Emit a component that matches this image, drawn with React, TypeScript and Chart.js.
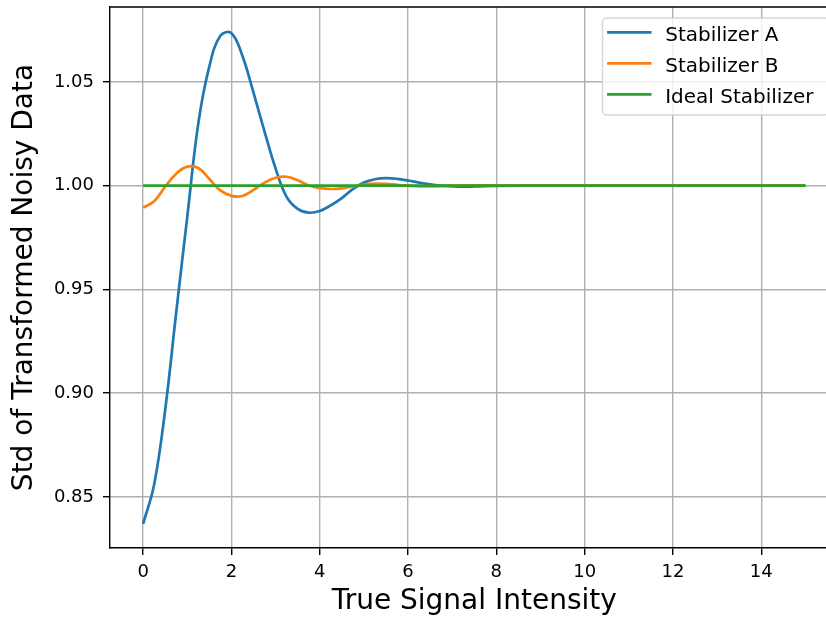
import React, { useEffect, useRef } from "react";
import { Chart, registerables } from "chart.js";

Chart.register(...registerables);

// ---- data ----
const X = [
  0, 0.25, 0.5, 0.75, 1, 1.25, 1.5, 1.75, 2, 2.25, 2.5, 2.75, 3, 3.25, 3.5, 3.75,
  4, 4.25, 4.5, 4.75, 5, 5.25, 5.5, 5.75, 6, 6.25, 6.5, 6.75, 7, 7.25, 7.5, 7.75,
  8, 9, 10, 11, 12, 13, 14, 15,
];
const STAB_A = [
  0.837, 0.856, 0.892, 0.939, 0.985, 1.03, 1.0575, 1.0722, 1.0735, 1.0625, 1.0448,
  1.0261, 1.0083, 0.9946, 0.9888, 0.987, 0.9878, 0.9905, 0.994, 0.9983, 1.0015,
  1.0031, 1.0036, 1.0033, 1.0025, 1.0015, 1.0006, 1.0, 0.9997, 0.9995, 0.9996,
  0.9998, 0.9999, 1.0, 1.0, 1.0, 1.0, 1.0, 1.0, 1.0,
];
const STAB_B = [
  0.9894, 0.9925, 0.9995, 1.0058, 1.0092, 1.0085, 1.0032, 0.9977, 0.9951, 0.995,
  0.998, 1.0015, 1.0038, 1.0043, 1.0026, 1.0001, 0.9988, 0.9984, 0.9987, 0.9996,
  1.0005, 1.001, 1.0009, 1.0004, 1.0, 0.9997, 0.9997, 0.9998, 1.0, 1.0001, 1.0002,
  1.0001, 1.0, 1.0, 1.0, 1.0, 1.0, 1.0, 1.0, 1.0,
];
const IDEAL_X = [0, 15];
const IDEAL = [1, 1];

const X_TICKS = [0, 2, 4, 6, 8, 10, 12, 14];
const Y_TICKS = [0.85, 0.9, 0.95, 1.0, 1.05];
const SERIES_LABELS = ["Stabilizer A", "Stabilizer B", "Ideal Stabilizer"];
const SERIES_COLORS = ["#1f77b4", "#ff7f0e", "#2ca02c"];
const X_TITLE = "True Signal Intensity";
const Y_TITLE = "Std of Transformed Noisy Data";

const FONT = "DejaVu Sans";

const framePlugin = {
  id: "frameAndLegend",
  afterDraw(chart: any) {
    const { ctx, chartArea } = chart;
    const { left, top, right, bottom } = chartArea;
    ctx.save();
    // top / right spines
    ctx.strokeStyle = "black";
    ctx.lineWidth = 1.4;
    ctx.beginPath();
    ctx.moveTo(left, top);
    ctx.lineTo(right, top);
    ctx.lineTo(right, bottom);
    ctx.stroke();

    // legend box
    const bx = right - 236;
    const by = top + 11;
    const bw = 226;
    const bh = 97;
    const r = 4;
    ctx.beginPath();
    ctx.moveTo(bx + r, by);
    ctx.lineTo(bx + bw - r, by);
    ctx.arcTo(bx + bw, by, bx + bw, by + r, r);
    ctx.lineTo(bx + bw, by + bh - r);
    ctx.arcTo(bx + bw, by + bh, bx + bw - r, by + bh, r);
    ctx.lineTo(bx + r, by + bh);
    ctx.arcTo(bx, by + bh, bx, by + bh - r, r);
    ctx.lineTo(bx, by + r);
    ctx.arcTo(bx, by, bx + r, by, r);
    ctx.closePath();
    ctx.fillStyle = "rgba(255,255,255,0.8)";
    ctx.fill();
    ctx.strokeStyle = "rgba(204,204,204,0.8)";
    ctx.lineWidth = 1.4;
    ctx.stroke();

    ctx.font = `20px "${FONT}"`;
    ctx.textBaseline = "alphabetic";
    ctx.textAlign = "left";
    SERIES_LABELS.forEach((label, i) => {
      const ly = by + 14.3 + i * 31;
      ctx.strokeStyle = SERIES_COLORS[i];
      ctx.lineWidth = 2.7;
      ctx.beginPath();
      ctx.moveTo(bx + 4.6, ly);
      ctx.lineTo(bx + 49, ly);
      ctx.stroke();
      ctx.fillStyle = "black";
      ctx.fillText(label, bx + 62.7, ly + 8.7);
    });
    ctx.restore();
  },
};

export default function App() {
  const ref = useRef<HTMLCanvasElement | null>(null);

  useEffect(() => {
    if (!ref.current) return;
    const toPts = (xs: number[], ys: number[]) => xs.map((x, i) => ({ x, y: ys[i] }));
    const tickFont = { family: FONT, size: 18 };
    const titleFont = { family: FONT, size: 28 };
    const chart = new Chart(ref.current, {
      type: "line",
      data: {
        datasets: [
          {
            label: SERIES_LABELS[0],
            data: toPts(X, STAB_A),
            borderColor: SERIES_COLORS[0],
            order: 3,
          },
          {
            label: SERIES_LABELS[1],
            data: toPts(X, STAB_B),
            borderColor: SERIES_COLORS[1],
            order: 2,
          },
          {
            label: SERIES_LABELS[2],
            data: toPts(IDEAL_X, IDEAL),
            borderColor: SERIES_COLORS[2],
            order: 1,
          },
        ],
      },
      options: {
        animation: false,
        responsive: false,
        maintainAspectRatio: false,
        layout: { padding: { left: 0, top: 7, right: 21.5, bottom: 0 } },
        elements: {
          line: { borderWidth: 2.7, tension: 0.4, fill: false },
          point: { radius: 0, hoverRadius: 0 },
        },
        plugins: {
          legend: { display: false },
          tooltip: { enabled: false },
        },
        scales: {
          x: {
            type: "linear",
            min: -0.75,
            max: 15.75,
            afterBuildTicks: (s: any) => {
              s.ticks = X_TICKS.map((v) => ({ value: v }));
            },
            afterFit: (s: any) => {
              s.height = 71;
              s.paddingLeft = 0;
              s.paddingRight = 0;
            },
            ticks: {
              callback: (v: any) => String(v),
              font: tickFont,
              color: "black",
              padding: 7,
              maxRotation: 0,
              autoSkip: false,
            },
            grid: {
              color: "#b0b0b0",
              lineWidth: 1.4,
              tickColor: "black",
              tickLength: 7,
              tickWidth: 1.4,
            },
            border: { color: "black", width: 1.4 },
            title: {
              display: true,
              text: X_TITLE,
              font: titleFont,
              color: "black",
              padding: { top: 0, bottom: 0 },
            },
          },
          y: {
            type: "linear",
            min: 0.8254,
            max: 1.0861,
            afterBuildTicks: (s: any) => {
              s.ticks = Y_TICKS.map((v) => ({ value: v }));
            },
            afterFit: (s: any) => {
              s.width = 110;
              s.paddingTop = 0;
              s.paddingBottom = 0;
            },
            ticks: {
              callback: (v: any) => Number(v).toFixed(2),
              font: tickFont,
              color: "black",
              padding: 9,
              autoSkip: false,
            },
            grid: {
              color: "#b0b0b0",
              lineWidth: 1.4,
              tickColor: "black",
              tickLength: 7,
              tickWidth: 1.4,
            },
            border: { color: "black", width: 1.4 },
            title: {
              display: true,
              text: Y_TITLE,
              font: titleFont,
              color: "black",
              padding: { top: 8, bottom: 0 },
            },
          },
        },
      },
      plugins: [framePlugin],
    } as any);
    return () => chart.destroy();
  }, []);

  return (
    <div
      style={{
        position: "fixed",
        left: 0,
        top: 0,
        width: 826,
        height: 619,
        overflow: "hidden",
        background: "white",
      }}
    >
      <canvas ref={ref} width={860} height={619} style={{ display: "block", width: 860, height: 619 }} />
    </div>
  );
}
